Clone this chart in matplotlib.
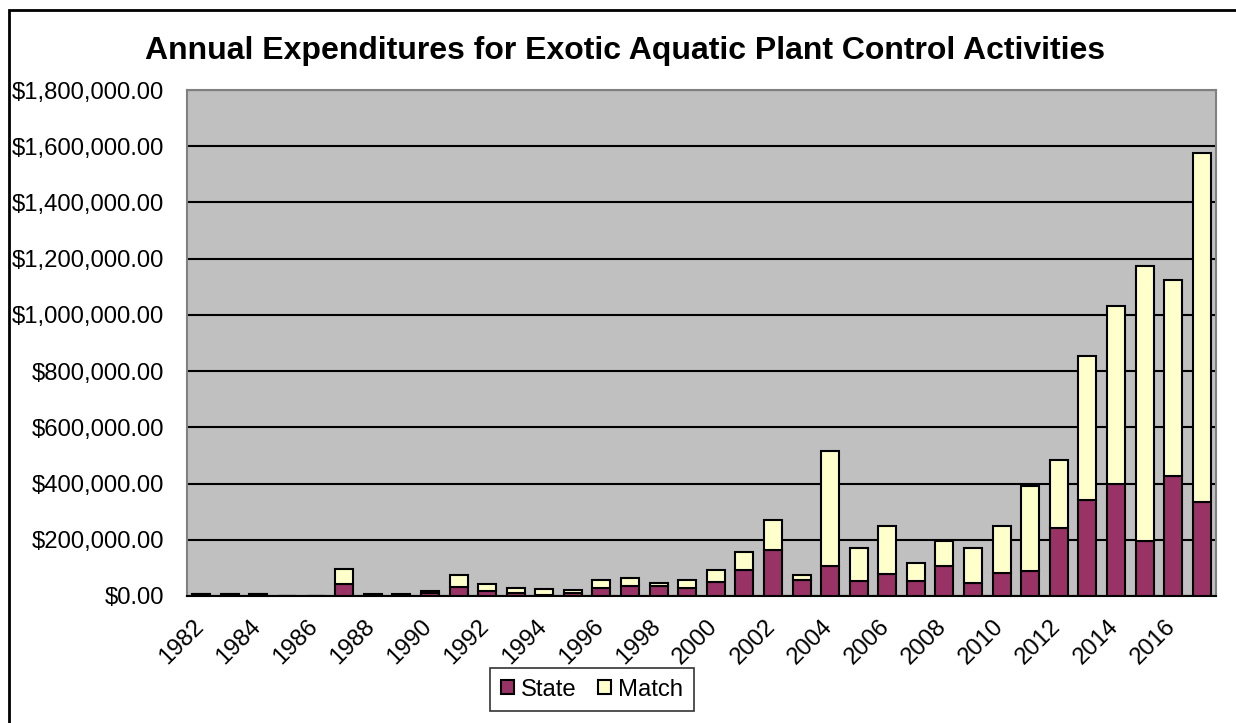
import matplotlib.pyplot as plt
from matplotlib.patches import Rectangle
from matplotlib.ticker import FuncFormatter
from matplotlib.transforms import ScaledTranslation

plt.rcParams['font.family'] = ['Liberation Sans', 'DejaVu Sans']

# Jahre 1982-2017, Werte in Dollar
years = list(range(1982, 2018))
state = [6000, 6000, 6000, 0, 0, 41000, 5000, 5000, 10000, 32000,
         18000, 11000, 4000, 12000, 30000, 36000, 35000, 30000, 51000, 92000,
         164000, 57000, 107000, 54000, 77000, 54000, 106000, 46000, 83000, 89000,
         242000, 342000, 399000, 196000, 426000, 333000]
match = [2000, 2000, 2000, 0, 0, 54000, 1000, 1000, 7000, 41000,
         26000, 19000, 20000, 10000, 28000, 29000, 10000, 28000, 43000, 66000,
         107000, 16000, 408000, 116000, 171000, 65000, 90000, 124000, 165000, 301000,
         241000, 513000, 634000, 979000, 699000, 1242000]
year_labels = [str(y) if (y - 1982) % 2 == 0 else '' for y in years]

fig = plt.figure(figsize=(12.36, 7.23), dpi=100)
ax = fig.add_axes([0.1513, 0.1757, 0.8325, 0.6998])
ax.set_facecolor('#C0C0C0')

x = range(len(years))
ax.bar(x, state, width=0.63, color='#993366', edgecolor='black', linewidth=1.5,
       label='State', zorder=3)
ax.bar(x, match, width=0.63, bottom=state, color='#FFFFCC', edgecolor='black',
       linewidth=1.5, label='Match', zorder=3)

ax.set_xlim(-0.5, len(years) - 0.5)
ax.set_ylim(0, 1800000)
ax.set_yticks(range(0, 1800001, 200000))
ax.yaxis.set_major_formatter(FuncFormatter(lambda v, p: '${:,.2f}'.format(v)))
ax.yaxis.grid(True, color='black', linewidth=1.5, zorder=1)
ax.set_axisbelow(True)

ax.set_xticks(list(x))
ax.set_xticklabels(year_labels, rotation=45, ha='right', rotation_mode='anchor')
ax.tick_params(axis='both', length=0, labelsize=17.2)
ax.tick_params(axis='y', pad=16.5)
ax.tick_params(axis='x', pad=14)
# Jahreszahlen etwas nach links schieben
shift = ScaledTranslation(-9 / 100, 0, fig.dpi_scale_trans)
for lab in ax.get_xticklabels():
    lab.set_transform(lab.get_transform() + shift)

for s in ['left', 'top', 'right']:
    ax.spines[s].set_color('#808080')
    ax.spines[s].set_linewidth(1.5)
ax.spines['bottom'].set_color('black')
ax.spines['bottom'].set_linewidth(1.5)

fig.text(0.506, 0.929, 'Annual Expenditures for Exotic Aquatic Plant Control Activities',
         ha='center', va='center', fontsize=23, fontweight='bold')

leg = fig.legend(loc='center', bbox_to_anchor=(0.479, 0.046), ncol=2, fontsize=17.2,
                 frameon=True, fancybox=False, edgecolor='black', handlelength=0.55,
                 handleheight=0.55, handletextpad=0.3, columnspacing=0.9,
                 borderpad=0.45)
leg.get_frame().set_linewidth(1.2)

# Rahmen um das ganze Diagramm (rechts und unten abgeschnitten)
fig.patches.append(Rectangle((0.007, -0.1), 1.1, 1.086, transform=fig.transFigure,
                             fill=False, edgecolor='black', linewidth=2))

fig.savefig('out.png', dpi=100)
